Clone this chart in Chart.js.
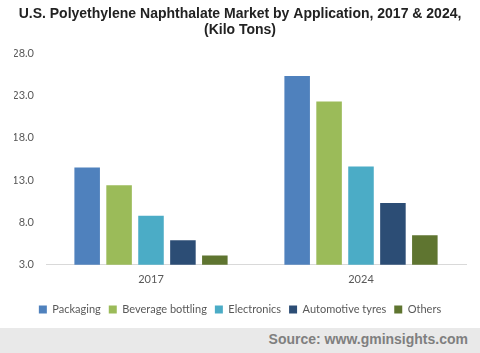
<!DOCTYPE html>
<html>
<head>
<meta charset="utf-8">
<script src="https://cdn.jsdelivr.net/npm/chart.js@4.4.1/dist/chart.umd.min.js"></script>
<style>
  html, body { margin: 0; padding: 0; background: #fff; }
  #wrap { width: 480px; height: 353px; position: relative; overflow: hidden; }
  #chartBox { width: 480px; height: 328px; position: relative; }
  #source {
    position: absolute; left: 0; top: 328px; width: 480px; height: 25px;
    background: #e9e9e9; color: #7f7f7f;
    font: bold 14px "Liberation Sans", Arial, sans-serif;
    text-align: right; line-height: 23px; box-sizing: border-box; padding-right: 12px;
  }
</style>
</head>
<body>
<div id="wrap">
  <div id="chartBox"><canvas id="chart"></canvas></div>
  <div id="source">Source: www.gminsights.com</div>
</div>
<script>
// Data
const years = ["2017", "2024"];
const packaging = [14.5, 25.3];
const beverageBottling = [12.4, 22.3];
const electronics = [8.8, 14.6];
const automotiveTyres = [5.9, 10.3];
const others = [4.1, 6.5];
const yTicks = [3, 8, 13, 18, 23, 28];

const seriesNames = ["Packaging", "Beverage bottling", "Electronics", "Automotive tyres", "Others"];
const seriesData = [packaging, beverageBottling, electronics, automotiveTyres, others];
const seriesColors = ["#4f81bd", "#9bbb59", "#4bacc6", "#2c4d75", "#5f7530"];

const labelFont = { family: "Lato, 'Open Sans', sans-serif", size: 11 };

new Chart(document.getElementById("chart"), {
  type: "bar",
  data: {
    labels: years,
    datasets: seriesNames.map((name, i) => ({
      label: name,
      data: seriesData[i],
      backgroundColor: seriesColors[i],
      borderWidth: 0,
      barPercentage: 0.8,
      categoryPercentage: 0.76,
    })),
  },
  options: {
    responsive: true,
    maintainAspectRatio: false,
    animation: false,
    layout: { padding: { left: 14, right: 14, top: 5, bottom: 3 } },
    plugins: {
      title: {
        display: true,
        text: ["U.S. Polyethylene Naphthalate Market by Application, 2017 & 2024,", "(Kilo Tons)"],
        color: "#222",
        font: { family: "'Liberation Sans', Arial, sans-serif", size: 14, weight: "bold", lineHeight: 1.15 },
        padding: { top: 1, bottom: 15 },
      },
      legend: {
        position: "bottom",
        labels: {
          boxWidth: 8,
          boxHeight: 8,
          padding: 8,
          color: "#595959",
          font: labelFont,
        },
      },
      tooltip: { enabled: false },
    },
    scales: {
      x: {
        grid: { display: false, drawTicks: false },
        border: { color: "#d9d9d9" },
        afterFit: (axis) => { axis.height += 2; },
        ticks: { color: "#595959", font: labelFont, padding: 8 },
      },
      y: {
        min: 3,
        max: 28,
        grid: { display: false, drawTicks: false },
        border: { display: false },
        afterBuildTicks: (axis) => { axis.ticks = yTicks.map((v) => ({ value: v })); },
        afterFit: (axis) => { axis.width = 32; },
        ticks: {
          color: "#595959",
          font: labelFont,
          padding: 12,
          callback: (v) => v.toFixed(1),
        },
      },
    },
  },
});
</script>
</body>
</html>
